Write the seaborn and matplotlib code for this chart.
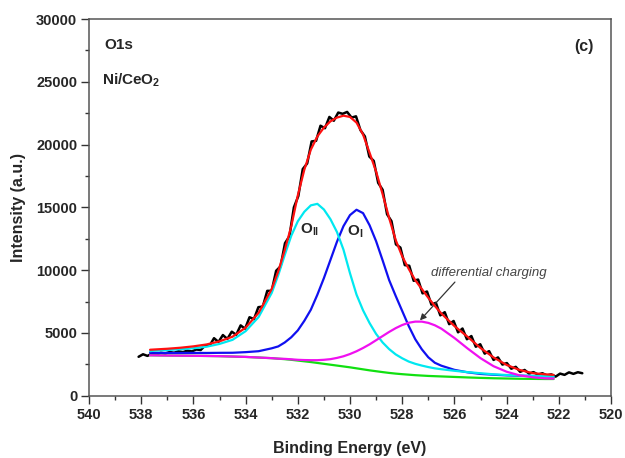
import numpy as np
import pandas as pd
import matplotlib
matplotlib.use("Agg")
import matplotlib.pyplot as plt
import seaborn as sns

# ---- O1s spectrum of Ni/CeO2 -------------------------------------------
# raw scan (binding energy in eV, counts)
scan_be = [538.10, 537.93, 537.76, 537.59, 537.42, 537.25, 537.08, 536.91, 536.74, 536.57,
           536.40, 536.23, 536.06, 535.89, 535.72, 535.55, 535.38, 535.21, 535.04, 534.87,
           534.70, 534.53, 534.36, 534.19, 534.02, 533.85, 533.68, 533.51, 533.34, 533.17,
           533.00, 532.83, 532.66, 532.49, 532.32, 532.15, 531.98, 531.81, 531.64, 531.47,
           531.30, 531.13, 530.96, 530.79, 530.62, 530.45, 530.28, 530.11, 529.94, 529.77,
           529.60, 529.43, 529.26, 529.09, 528.92, 528.75, 528.58, 528.41, 528.24, 528.07,
           527.90, 527.73, 527.56, 527.39, 527.22, 527.05, 526.88, 526.71, 526.54, 526.37,
           526.20, 526.03, 525.86, 525.69, 525.52, 525.35, 525.18, 525.01, 524.84, 524.67,
           524.50, 524.33, 524.16, 523.99, 523.82, 523.65, 523.48, 523.31, 523.14, 522.97,
           522.80, 522.63, 522.46, 522.29, 522.12, 521.95, 521.78, 521.61, 521.44, 521.27,
           521.10]
scan_counts = [3100, 3300, 3170, 3350, 3280, 3420, 3360, 3480, 3420, 3540,
               3470, 3590, 3530, 3680, 3640, 4000, 3980, 4580, 4280, 4830,
               4520, 5100, 4850, 5600, 5330, 6250, 6100, 7050, 7100, 8350,
               8350, 9950, 10300, 12150, 12700, 15000, 15900, 18050, 18500, 20250,
               20300, 21500, 21300, 22200, 21900, 22550, 22450, 22600, 22150, 22250,
               21150, 20650, 19050, 18700, 16950, 16400, 14450, 13900, 12050, 11800,
               10400, 10350, 9150, 9250, 8150, 8300, 7250, 7400, 6400, 6650,
               5700, 5950, 5050, 5350, 4500, 4750, 3900, 4100, 3350, 3550,
               2850, 3050, 2480, 2600, 2150, 2300, 1900, 2050, 1760, 1880,
               1680, 1790, 1620, 1700, 1520, 1760, 1660, 1860, 1740, 1870,
               1790]

# fitted curves (binding energy in eV)
fit_be = [537.66, 537.5, 537.0, 536.5, 536.0, 535.5, 535.0, 534.5, 534.0, 533.5,
          533.0, 532.75, 532.5, 532.25, 532.0, 531.75, 531.5, 531.25, 531.0, 530.75,
          530.5, 530.25, 530.0, 529.75, 529.5, 529.25, 529.0, 528.75, 528.5, 528.25,
          528.0, 527.75, 527.5, 527.25, 527.0, 526.75, 526.5, 526.0, 525.5, 525.0,
          524.5, 524.0, 523.5, 523.0, 522.5, 522.2]

envelope = [3660, 3680, 3740, 3820, 3930, 4080, 4330, 4700, 5420, 6600,
            8500, 9900, 11600, 13500, 15950, 18000, 19600, 20650, 21350, 21850,
            22150, 22300, 22200, 21750, 20800, 19350, 17850, 16050, 14150, 12400,
            11100, 10100, 9200, 8500, 7800, 7150, 6550, 5550, 4700, 3800,
            3050, 2450, 2050, 1800, 1700, 1660]

o_ii = [3550, 3585, 3640, 3700, 3780, 3900, 4125, 4450, 5140, 6270,
        8185, 9600, 11210, 12740, 13890, 14650, 15160, 15280, 14830, 14060,
        13040, 11630, 9750, 8050, 6800, 5785, 4920, 4240, 3710, 3290,
        2980, 2720, 2540, 2400, 2280, 2180, 2110, 1985, 1880, 1790,
        1705, 1650, 1605, 1580, 1558, 1545]

o_i = [3420, 3415, 3410, 3405, 3410, 3405, 3415, 3420, 3470, 3545,
       3775, 3925, 4240, 4655, 5200, 5965, 6850, 8045, 9365, 10810,
       12260, 13505, 14385, 14810, 14540, 13575, 12305, 10780, 9205, 7950,
       6750, 5550, 4500, 3700, 3060, 2625, 2390, 2060, 1865, 1735,
       1670, 1620, 1590, 1565, 1545, 1530]

charging = [3220, 3215, 3200, 3190, 3180, 3165, 3150, 3120, 3090, 3040,
            2990, 2950, 2935, 2900, 2860, 2840, 2830, 2830, 2860, 2910,
            3010, 3140, 3320, 3540, 3800, 4090, 4420, 4750, 5080, 5380,
            5630, 5810, 5900, 5900, 5800, 5610, 5340, 4600, 3770, 2990,
            2350, 1910, 1620, 1470, 1380, 1360]

background = [3220, 3215, 3200, 3190, 3180, 3165, 3150, 3120, 3090, 3040,
              2990, 2950, 2910, 2860, 2800, 2740, 2680, 2610, 2540, 2470,
              2400, 2330, 2260, 2180, 2100, 2020, 1950, 1880, 1815, 1760,
              1715, 1675, 1635, 1605, 1575, 1555, 1535, 1495, 1455, 1420,
              1390, 1370, 1350, 1340, 1330, 1330]

x_ticks = [540, 538, 536, 534, 532, 530, 528, 526, 524, 522, 520]
y_ticks = [0, 5000, 10000, 15000, 20000, 25000, 30000]

# ---- styling -----------------------------------------------------------
sns.set_style("ticks")
plt.rcParams["font.family"] = ["Liberation Sans", "DejaVu Sans"]
plt.rcParams["mathtext.fontset"] = "custom"
plt.rcParams["mathtext.rm"] = "Liberation Sans"
plt.rcParams["mathtext.bf"] = "Liberation Sans:bold"
plt.rcParams["mathtext.it"] = "Liberation Sans:italic"

fig = plt.figure(figsize=(6.25, 4.58), dpi=100)
ax = fig.add_axes([0.1424, 0.136, 0.8352, 0.8225])

scan = pd.DataFrame({"be": scan_be, "counts": scan_counts})
fits = pd.DataFrame({"be": fit_be, "envelope": envelope, "o_ii": o_ii,
                     "o_i": o_i, "charging": charging, "background": background})

sns.lineplot(data=scan, x="be", y="counts", color="black", lw=1.8,
             estimator=None, sort=False, ax=ax, zorder=2)
sns.lineplot(data=fits, x="be", y="background", color="#11e011", lw=1.6,
             estimator=None, sort=False, ax=ax, zorder=3)
sns.lineplot(data=fits, x="be", y="o_i", color="#1010f0", lw=1.6,
             estimator=None, sort=False, ax=ax, zorder=4)
sns.lineplot(data=fits, x="be", y="o_ii", color="#00e8f0", lw=1.6,
             estimator=None, sort=False, ax=ax, zorder=5)
sns.lineplot(data=fits, x="be", y="charging", color="#f010f0", lw=1.6,
             estimator=None, sort=False, ax=ax, zorder=6)
sns.lineplot(data=fits, x="be", y="envelope", color="#ff1010", lw=1.6,
             estimator=None, sort=False, ax=ax, zorder=7)

ax.set_xlim(540, 520)
ax.set_ylim(0, 30000)
ax.set_xticks(x_ticks)
ax.set_xticks(np.arange(539, 520, -2), minor=True)
ax.set_yticks(y_ticks)
ax.set_yticks(np.arange(2500, 30000, 5000), minor=True)
ax.set_xticklabels([str(v) for v in x_ticks], fontweight="bold", fontsize=10.5)
ax.set_yticklabels([str(v) for v in y_ticks], fontweight="bold", fontsize=10.5)
ax.tick_params(axis="both", which="major", direction="out", length=5.5,
               width=1.0, color="#333333", pad=3)
ax.tick_params(axis="both", which="minor", direction="out", length=3,
               width=1.0, color="#333333")
for side in ["top", "right", "bottom", "left"]:
    ax.spines[side].set_visible(True)
    ax.spines[side].set_color("#555555")
    ax.spines[side].set_linewidth(1.1)

ax.set_xlabel("Binding Energy (eV)", fontweight="bold", fontsize=11.5, labelpad=14)
ax.set_ylabel("Intensity (a.u.)", fontweight="bold", fontsize=11.5, labelpad=7)

# ---- annotations ------------------------------------------------------
ax.text(539.43, 27920, "O1s", fontweight="bold", fontsize=11, ha="left", va="center")
ax.text(539.5, 25150, r"Ni/CeO$_\mathbf{2}$", fontweight="bold", fontsize=11,
        ha="left", va="center")
ax.text(521.03, 27840, "(c)", fontweight="bold", fontsize=11.5, ha="center", va="center")
ax.text(531.9, 13200, r"O$_\mathbf{II}$", fontweight="bold", fontsize=11,
        ha="left", va="center")
ax.text(530.1, 13050, r"O$_\mathbf{I}$", fontweight="bold", fontsize=11,
        ha="left", va="center")
ax.text(524.7, 9750, "differential charging", fontstyle="italic", fontsize=9.5,
        color="#444444", ha="center", va="center")
ax.annotate("", xy=(527.32, 6000), xytext=(525.98, 9050),
            arrowprops=dict(arrowstyle="-|>", color="#333333", lw=0.9,
                            mutation_scale=9, shrinkA=0, shrinkB=0))

fig.savefig("out.png", dpi=100)
